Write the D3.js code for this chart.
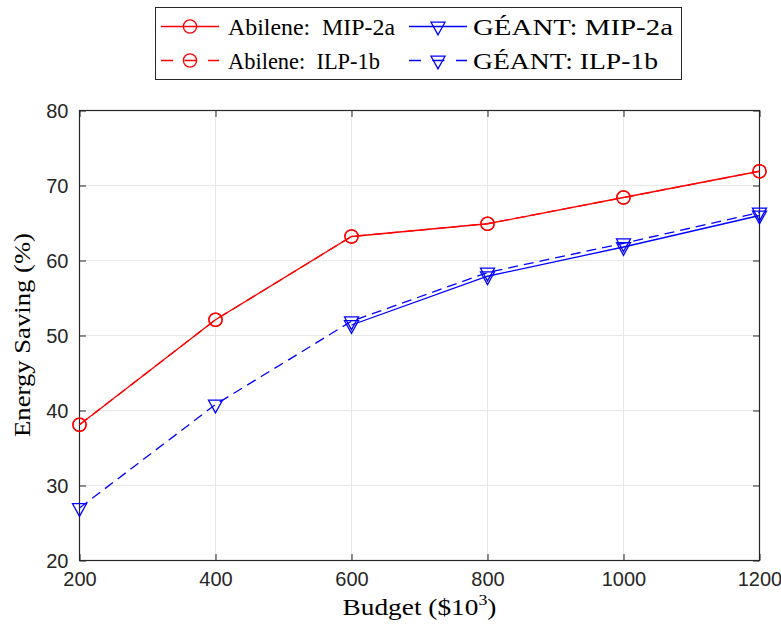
<!DOCTYPE html>
<html>
<head>
<meta charset="utf-8">
<script src="https://cdn.jsdelivr.net/npm/d3@7"></script>
<style>
  html, body { margin: 0; padding: 0; background: #fff; }
  svg { display: block; }
  .tick-label { font-family: "Liberation Sans", Arial, Helvetica, sans-serif; font-size: 20px; fill: #262626; }
  .tex { font-family: "Liberation Serif", "Times New Roman", serif; fill: #000; }
</style>
</head>
<body>
<svg id="chart" width="781" height="624"></svg>
<script>
// Budget levels (x axis, in $10^3)
const budgets = [200, 400, 600, 800, 1000, 1200];
// Energy saving (%) per budget
const abileneMIP = [38.1, 52.1, 63.2, 64.9, 68.4, 71.9];
const abileneILP = [38.1, 52.1, 63.2, 64.9, 68.4, 71.9];
const geantMIP   = [null, null, 51.4, 57.9, 61.8, 66.0];
const geantILP   = [27.0, 40.8, 51.9, 58.4, 62.3, 66.4];
// Axis ticks
const xTicks = [200, 400, 600, 800, 1000, 1200];
const yTicks = [20, 30, 40, 50, 60, 70, 80];

const series = [
  { name: "Abilene:  MIP-2a", values: abileneMIP, color: "#ff0000", dash: null,   marker: "circle", textW: 167 },
  { name: "GÉANT: MIP-2a",    values: geantMIP,   color: "#0000ff", dash: null,   marker: "tri",    textW: 200 },
  { name: "Abilene:  ILP-1b", values: abileneILP, color: "#ff0000", dash: "10,6", marker: "circle", textW: 152 },
  { name: "GÉANT: ILP-1b",    values: geantILP,   color: "#0000ff", dash: "10,6", marker: "tri",    textW: 185 }
];

const svg = d3.select("#chart");
const plot = { left: 79.5, right: 759.5, top: 110.5, bottom: 560.5 };

const x = d3.scaleLinear().domain([200, 1200]).range([plot.left, plot.right]);
const y = d3.scaleLinear().domain([20, 80]).range([plot.bottom, plot.top]);

const axisColor = "#262626";
const gridColor = "#e8e8e8";
const tickLen = 6.5;

// Grid
const grid = svg.append("g");
grid.selectAll("line.gx").data(xTicks).join("line")
  .attr("x1", d => x(d)).attr("x2", d => x(d))
  .attr("y1", plot.top).attr("y2", plot.bottom)
  .attr("stroke", gridColor).attr("stroke-width", 1);
grid.selectAll("line.gy").data(yTicks).join("line")
  .attr("y1", d => y(d)).attr("y2", d => y(d))
  .attr("x1", plot.left).attr("x2", plot.right)
  .attr("stroke", gridColor).attr("stroke-width", 1);

// Axes via d3 axis generators (inward ticks on all four sides)
function styleAxis(g) {
  g.select(".domain").remove();
  g.selectAll(".tick line").attr("stroke", axisColor).attr("stroke-width", 1);
}
const xb = svg.append("g").attr("transform", `translate(0,${plot.bottom})`)
  .call(d3.axisBottom(x).tickValues(xTicks).tickSizeInner(-tickLen).tickSizeOuter(0).tickFormat(d3.format("d")));
styleAxis(xb);
xb.selectAll(".tick text").attr("class", "tick-label").attr("font-size", null).attr("font-family", null).attr("fill", null).attr("dy", "0.71em").attr("y", 11);

const xt = svg.append("g").attr("transform", `translate(0,${plot.top})`)
  .call(d3.axisTop(x).tickValues(xTicks).tickSizeInner(-tickLen).tickSizeOuter(0).tickFormat(""));
styleAxis(xt);

const yl = svg.append("g").attr("transform", `translate(${plot.left},0)`)
  .call(d3.axisLeft(y).tickValues(yTicks).tickSizeInner(-tickLen).tickSizeOuter(0).tickFormat(d3.format("d")));
styleAxis(yl);
yl.selectAll(".tick text").attr("class", "tick-label").attr("font-size", null).attr("font-family", null).attr("fill", null).attr("x", -11).attr("dy", "0.35em");

const yr = svg.append("g").attr("transform", `translate(${plot.right},0)`)
  .call(d3.axisRight(y).tickValues(yTicks).tickSizeInner(-tickLen).tickSizeOuter(0).tickFormat(""));
styleAxis(yr);

// Box
svg.append("rect")
  .attr("x", plot.left).attr("y", plot.top)
  .attr("width", plot.right - plot.left).attr("height", plot.bottom - plot.top)
  .attr("fill", "none").attr("stroke", axisColor).attr("stroke-width", 1.2);

// Markers
const triPath = "M-7,-4.3 L7,-4.3 L0,8.3 Z";
function drawMarker(sel, s) {
  if (s.marker === "circle") {
    sel.append("circle").attr("r", 6.6)
      .attr("fill", "none").attr("stroke", s.color).attr("stroke-width", 1.3);
  } else {
    sel.append("path").attr("d", triPath)
      .attr("fill", "none").attr("stroke", s.color).attr("stroke-width", 1.3)
      .attr("stroke-linejoin", "miter");
  }
}

// Lines + markers
const line = d3.line()
  .defined(d => d.v != null)
  .x(d => x(d.b)).y(d => y(d.v));

series.forEach(s => {
  const pts = budgets.map((b, i) => ({ b, v: s.values[i] }));
  svg.append("path").datum(pts)
    .attr("d", line)
    .attr("fill", "none").attr("stroke", s.color).attr("stroke-width", 1.3)
    .attr("stroke-dasharray", s.dash);
  svg.append("g").selectAll("g").data(pts.filter(p => p.v != null)).join("g")
    .attr("transform", p => `translate(${x(p.b)},${y(p.v)})`)
    .each(function () { drawMarker(d3.select(this), s); });
});

// Axis labels
const xLab = svg.append("text").attr("class", "tex")
  .attr("x", (plot.left + plot.right) / 2).attr("y", 615)
  .attr("text-anchor", "middle").attr("font-size", 23)
  .attr("textLength", 154).attr("lengthAdjust", "spacingAndGlyphs");
xLab.append("tspan").text("Budget ($10");
xLab.append("tspan").attr("dy", -10).attr("font-size", 15).text("3");
xLab.append("tspan").attr("dy", 10).text(")");

svg.append("text").attr("class", "tex")
  .attr("transform", `translate(30,${(plot.top + plot.bottom) / 2 - 0.5}) rotate(-90)`)
  .attr("text-anchor", "middle").attr("font-size", 23)
  .attr("textLength", 204).attr("lengthAdjust", "spacingAndGlyphs")
  .text("Energy Saving (%)");

// Legend (two columns, row-major)
const legend = { x0: 155, y0: 7, x1: 681, y1: 79, rows: [26.5, 60.5],
  cols: [{ l0: 161, l1: 219, m: 190, t: 228 }, { l0: 409, l1: 467, m: 438, t: 473 }] };
svg.append("rect")
  .attr("x", legend.x0 + 0.5).attr("y", legend.y0 + 0.5)
  .attr("width", legend.x1 - legend.x0).attr("height", legend.y1 - legend.y0)
  .attr("fill", "#fff").attr("stroke", axisColor).attr("stroke-width", 1);

series.forEach((s, i) => {
  const c = legend.cols[i % 2];
  const ry = legend.rows[Math.floor(i / 2)];
  const g = svg.append("g");
  g.append("line").attr("x1", c.l0).attr("x2", c.l1).attr("y1", ry).attr("y2", ry)
    .attr("stroke", s.color).attr("stroke-width", 1.3)
    .attr("stroke-dasharray", s.dash ? "12,11.5,12,11.5,12" : null);
  const mg = g.append("g").attr("transform", `translate(${c.m},${ry})`);
  drawMarker(mg, s);
  g.append("text").attr("class", "tex").attr("x", c.t).attr("y", ry + 8)
    .attr("font-size", 23).attr("xml:space", "preserve").style("white-space", "pre")
    .attr("textLength", s.textW).attr("lengthAdjust", "spacingAndGlyphs")
    .text(s.name);
});
</script>
</body>
</html>
